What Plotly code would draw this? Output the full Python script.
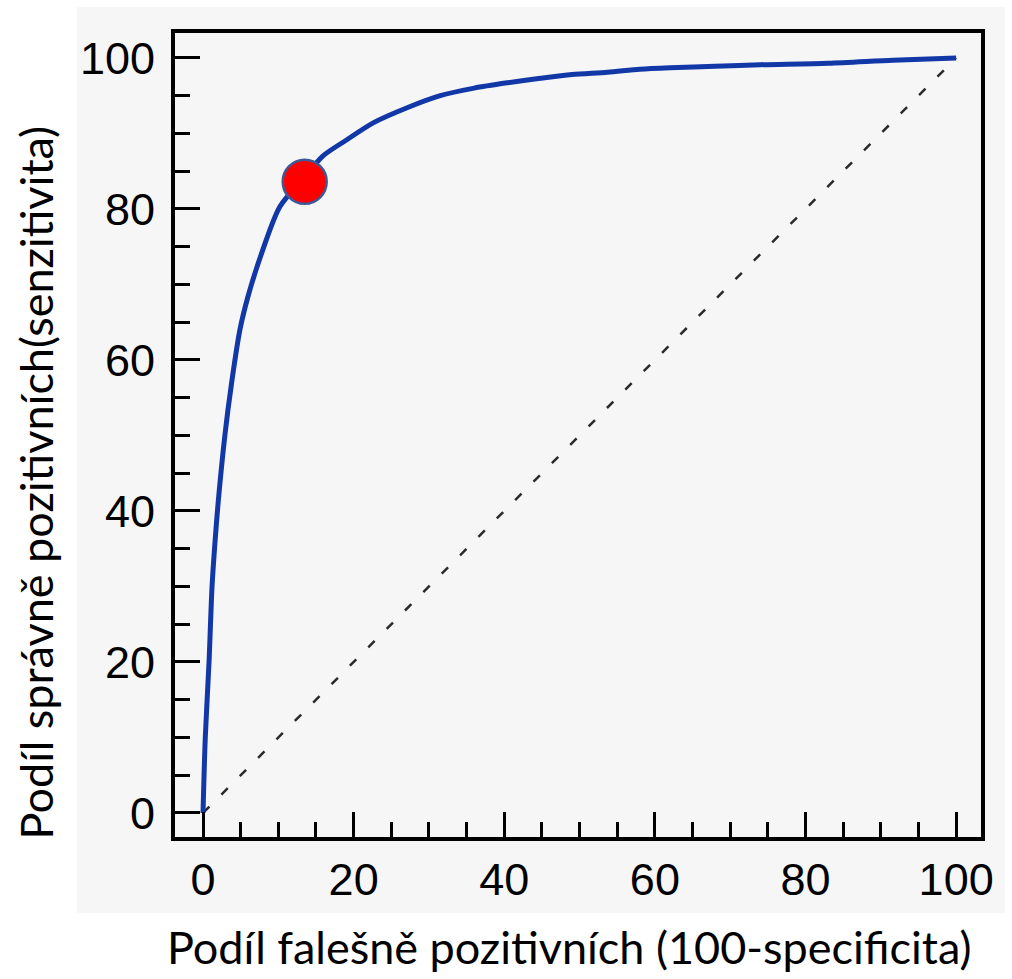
import plotly.graph_objects as go

# ROC curve (x = 100-specificity, y = sensitivity)
roc_fpr = [0, 0.3, 0.8, 1.2, 1.6, 2.0, 2.9, 3.8, 4.9, 6.0, 7.6, 10.2, 13.4, 15.9,
           19.0, 22.6, 27.1, 31.5, 36.0, 40.4, 44.8, 49.0, 53.7, 58.0, 62.0,
           68.0, 74.0, 83.0, 91.6, 100]
roc_tpr = [0, 10, 20, 30, 36, 41, 50, 57, 64, 68.5, 73.6, 80.3, 84.1, 87.0,
           89.1, 91.4, 93.4, 95.0, 96.0, 96.7, 97.3, 97.8, 98.1, 98.5, 98.7,
           98.9, 99.1, 99.3, 99.7, 100]

diag_x = [0, 100]
diag_y = [0, 100]

cut_x = [13.5]
cut_y = [83.6]

tick_vals = [0, 20, 40, 60, 80, 100]
tick_text = ["0", "20", "40", "60", "80", "100"]

x_title = "Podíl falešně pozitivních (100-specificita)"
y_title = "Podíl správně pozitivních(senzitivita)"

PANEL = "#f6f6f6"

fig = go.Figure()
fig.add_trace(go.Scatter(x=diag_x, y=diag_y, mode="lines",
                         line=dict(color="#2a2a2a", width=2.5, dash="9px,17px"),
                         hoverinfo="skip", showlegend=False))
fig.add_trace(go.Scatter(x=roc_fpr, y=roc_tpr, mode="lines",
                         line=dict(color="#1238a8", width=5, shape="spline", smoothing=0.8),
                         showlegend=False))
fig.add_trace(go.Scatter(x=cut_x, y=cut_y, mode="markers",
                         marker=dict(color="#ff0000", size=44,
                                     line=dict(color="#3c5a96", width=2.5)),
                         showlegend=False))

axis_common = dict(
    showgrid=False, zeroline=False,
    showline=True, linecolor="black", linewidth=4, mirror=True,
    ticks="inside", ticklen=25, tickwidth=3, tickcolor="black",
    tickvals=tick_vals, ticktext=tick_text,
    tickfont=dict(family="Liberation Sans, Arial, sans-serif", size=45, color="black"),
    minor=dict(ticks="inside", dtick=5, ticklen=15, tickwidth=3, tickcolor="black", showgrid=False),
)

fig.update_xaxes(range=[-3.72, 103.3], **axis_common)
fig.update_yaxes(range=[-3.18, 103.3], ticklabelstandoff=7, **axis_common)

fig.add_shape(type="rect", xref="paper", yref="paper",
              x0=-0.1216, x1=1.0298, y0=-0.0945, y1=1.0323,
              fillcolor=PANEL, line=dict(width=0), layer="below")

fig.add_annotation(text=x_title, xref="paper", yref="paper",
                   x=0.49, y=-0.1368, xanchor="center", yanchor="middle",
                   showarrow=False,
                   font=dict(family="Lato, sans-serif", size=45, color="black"))
fig.add_annotation(text=y_title, xref="paper", yref="paper",
                   x=-0.172, y=0.4415, xanchor="center", yanchor="middle",
                   textangle=-90, showarrow=False,
                   font=dict(family="Lato, sans-serif", size=45, color="black"))

fig.update_layout(
    width=1012, height=979,
    margin=dict(l=175, r=31, t=33, b=142),
    paper_bgcolor="white", plot_bgcolor=PANEL,
    showlegend=False,
)

fig.write_html("out.html", config={"displayModeBar": False},
               post_script="document.body.style.margin='0';document.body.style.overflow='hidden';")
